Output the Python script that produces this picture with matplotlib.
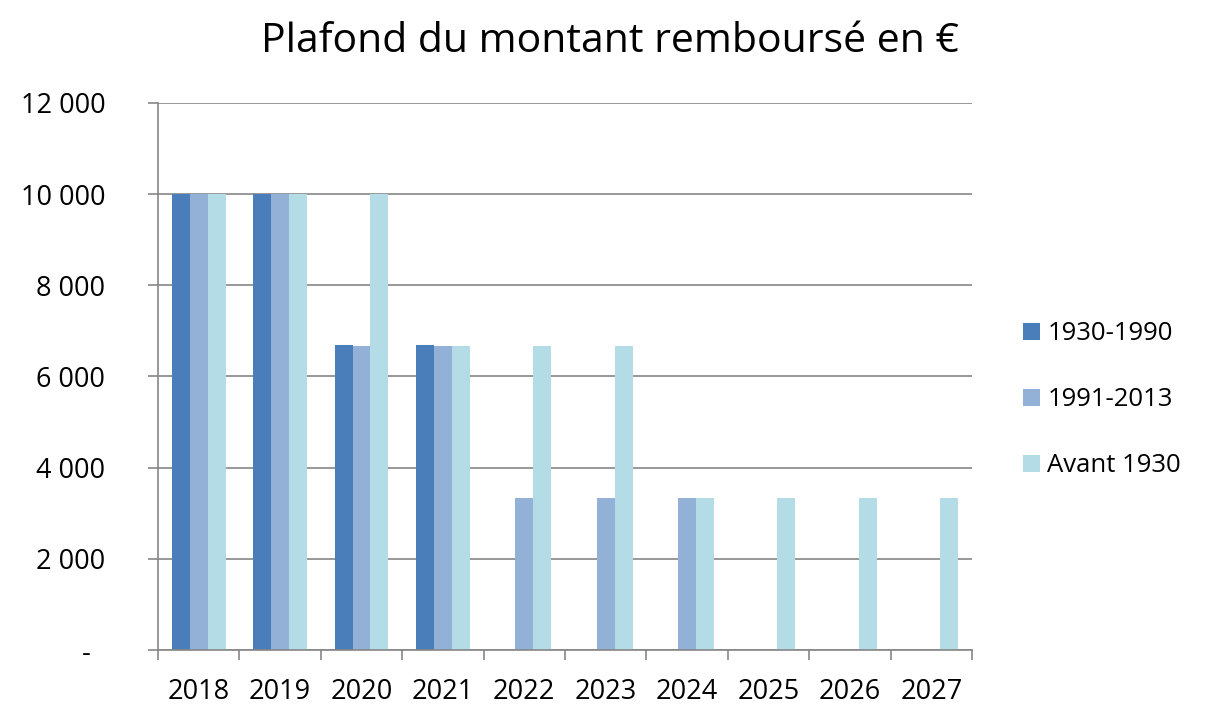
import numpy as np
import matplotlib.pyplot as plt

years = ['2018', '2019', '2020', '2021', '2022', '2023', '2024', '2025', '2026', '2027']
s_1930_1990 = [10000, 10000, 6700, 6700, 0, 0, 0, 0, 0, 0]
s_1991_2013 = [10000, 10000, 6667, 6667, 3333, 3333, 3333, 0, 0, 0]
s_avant_1930 = [10000, 10000, 10000, 6667, 6667, 6667, 3333, 3333, 3333, 3333]
series_names = ['1930-1990', '1991-2013', 'Avant 1930']
colors = ['#4A7EBB', '#93B1D7', '#B4DCE6']

plt.rcParams['font.family'] = ['Open Sans', 'DejaVu Sans']

fig = plt.figure(figsize=(12.15, 7.04), dpi=100)
ax = fig.add_axes([0.130, 0.0767, 0.670, 0.777])

x = np.arange(len(years))
w = 0.22
for i, (vals, name, c) in enumerate(zip([s_1930_1990, s_1991_2013, s_avant_1930], series_names, colors)):
    ax.bar(x + (i - 1) * w, vals, width=w, color=c, label=name, zorder=2)

ax.set_xlim(-0.5, len(years) - 0.5)
ax.set_ylim(0, 12000)
ax.set_yticks(range(0, 12001, 2000))
ax.set_yticklabels(['-  '] + [f'{v:,}'.replace(',', ' ') for v in range(2000, 12001, 2000)])
ax.yaxis.grid(True, color='#868686', linewidth=1.2, zorder=0)

# x ticks at category boundaries, labels centred
ax.set_xticks(np.arange(-0.5, len(years)), minor=False)
ax.set_xticklabels([])
ax.set_xticks(x, minor=True)
ax.set_xticklabels(years, minor=True)
ax.tick_params(axis='x', which='minor', length=0, pad=20, labelsize=19.5)
ax.tick_params(axis='x', which='major', length=7, color='#868686', width=1.2)
ax.tick_params(axis='y', length=7, color='#868686', width=1.2, labelsize=19.5, pad=31)

for side in ['top', 'right']:
    ax.spines[side].set_visible(False)
for side in ['left', 'bottom']:
    ax.spines[side].set_color('#868686')
    ax.spines[side].set_linewidth(1.2)

fig.text(0.502, 0.94, 'Plafond du montant remboursé en €', ha='center', va='center', fontsize=29.5)

leg = fig.legend(loc='center left', bbox_to_anchor=(0.823, 0.432), frameon=False,
                 fontsize=18.5, handlelength=0.65, handleheight=0.65, handletextpad=0.3,
                 labelspacing=1.6)

fig.savefig('out.png', dpi=100)
